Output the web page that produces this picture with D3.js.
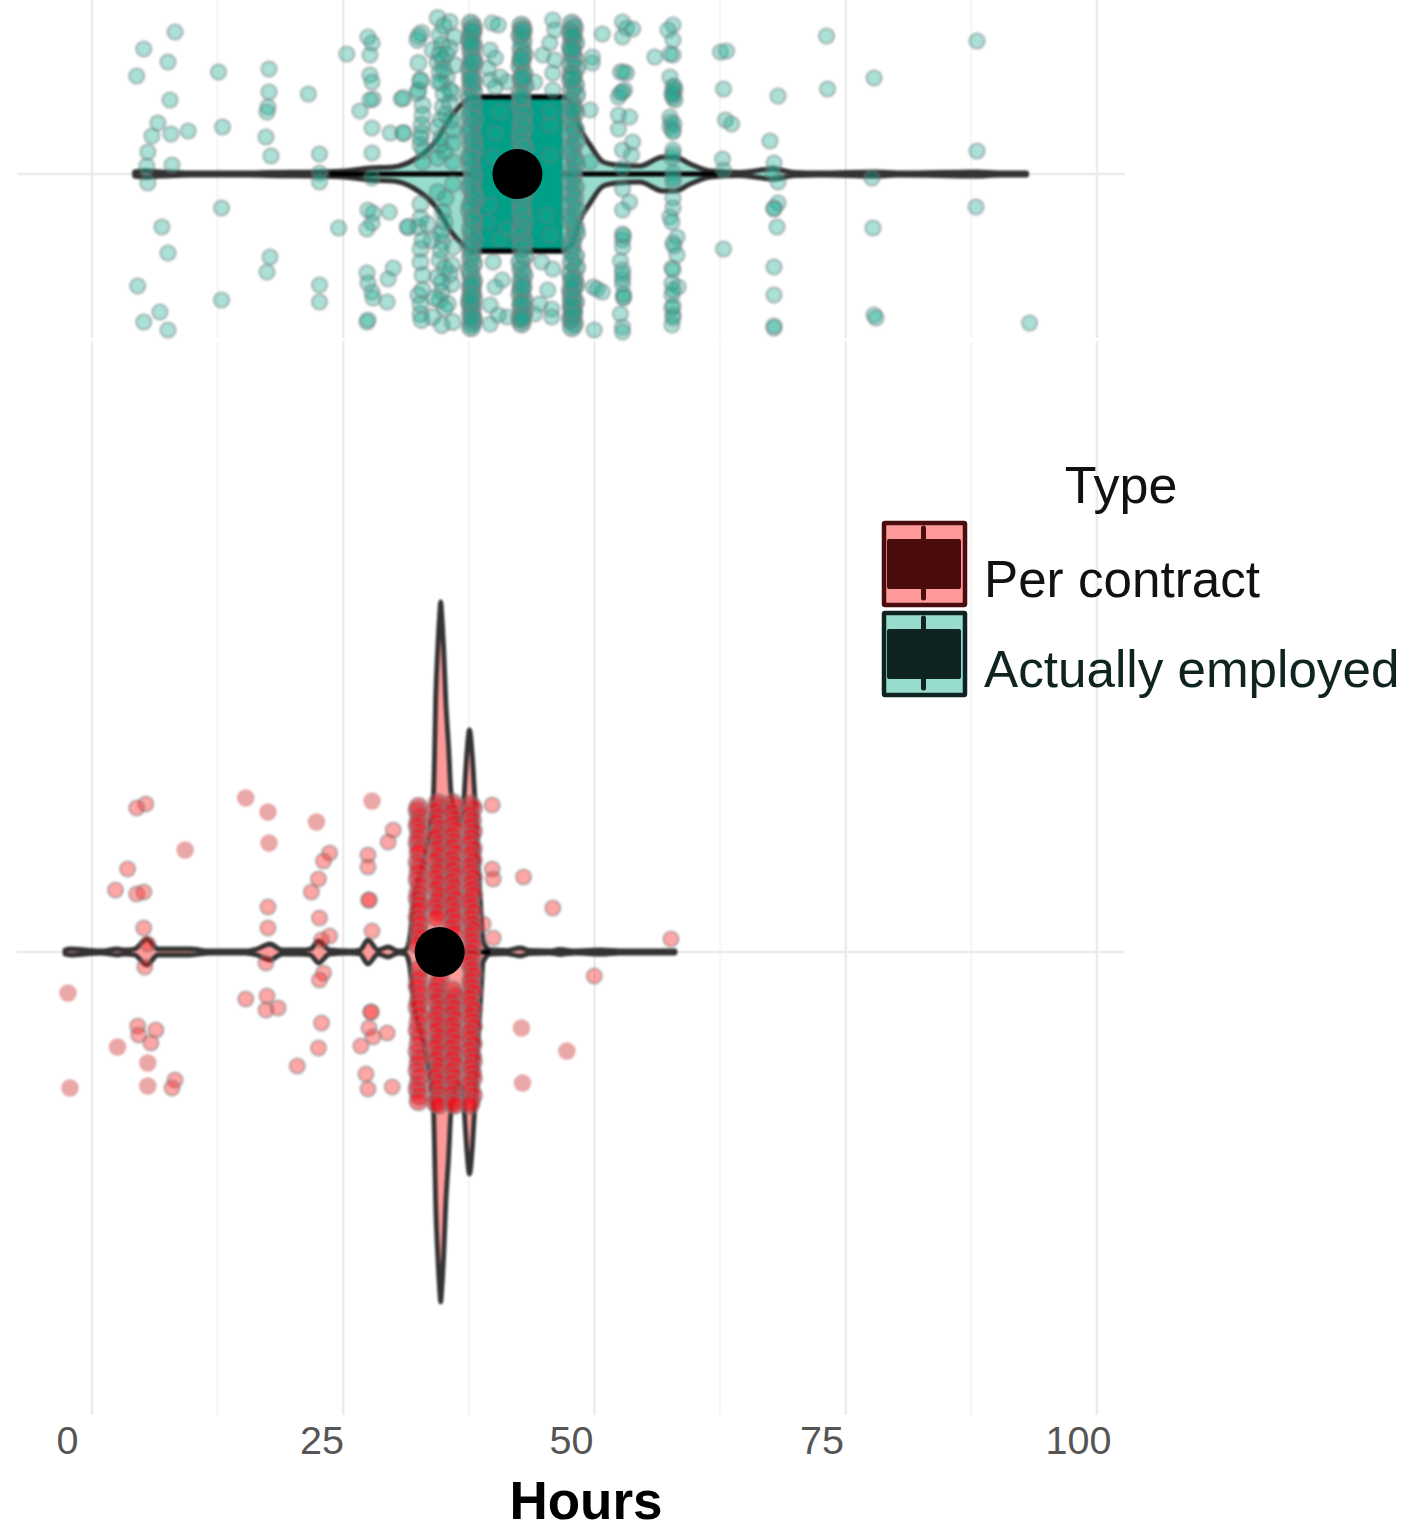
<!DOCTYPE html>
<html><head><meta charset="utf-8">
<script src="https://cdn.jsdelivr.net/npm/d3@7/dist/d3.min.js"></script>
<style>html,body{margin:0;padding:0;background:#fff}svg{display:block}text{font-family:"Liberation Sans",Arial,sans-serif}</style>
</head><body><svg id="c" width="1407" height="1525"><defs><filter id="soft" x="-5%" y="-5%" width="110%" height="110%" color-interpolation-filters="sRGB"><feGaussianBlur stdDeviation="1"/></filter></defs></svg>
<script>
const tickValues=[0,25,50,75,100];
const tickLabels=["0","25","50","75","100"];
const tickShift=[0,2,-1,-3,1];
const minorGrid=[12.5,37.5,62.5,87.5];
const legendLabels=["Per contract","Actually employed"];

// violin outlines: hours and half density
const actualVH=[6.7,7.7,9.2,10.7,12.2,18.1,20.1,25,27.5,30,32.3,34.3,36.6,38.2,39.1,40.2,44.8,49,50,50.8,51.8,53.1,54.5,56.7,59,60.2,61.7,63.7,66.6,69.9,72,74.6,80,82.5,90.1,92.4,95];
const actualVD=[.002,.003,.002,.0015,.001,.001,.0015,.002,.003,.006,.007,.014,.034,.06,.07,.077,.077,.077,.07,.046,.029,.012,.009,.008,.017,.017,.01,.003,.0015,.005,.0015,.001,.002,.001,.002,.001,.001];
const contractVH=[-.2,.3,3.3,5,5.7,6.7,7.9,9,10.7,12.2,14.2,17.6,18.8,20.1,21.3,23.1,24.1,24.9,26,28,29,29.8,30.8,31.8,32.8,33.5,33.9,34.3,35,35.5,36,36.3,36.4,36.5,36.7,36.9,37,37.1,37.3,37.5,37.8,38,38.4,38.8,39.2,39.4,39.6,39.85,40.1,40.4,40.7,41,41.2,41.9,43.4,44.9,45.8,47.8,48.8,50.3,52.8,54.8,60.2];
const contractVD=[.002,.003,.001,.003,.002,.003,.013,.003,.003,.003,.001,.001,.003,.008,.002,.002,.003,.011,.002,.001,.002,.012,.002,.005,.001,.002,.012,.05,.08,.1,.13,.162,.202,.252,.302,.338,.35,.338,.302,.252,.202,.162,.14,.13,.14,.17,.2,.222,.2,.15,.09,.04,.01,.002,.0015,.004,.0015,.001,.0025,.001,.002,.001,.001];

// points: [hours, jitter]
const actualScatter=[[10.7,-71],[7.6,-62.5],[10,-56],[6.9,-49],[15,-51],[20,-52.5],[20,-41],[19.9,-33.5],[19.8,-31],[23.9,-40],[10.2,-37],[9,-25.5],[8.4,-19],[10.3,-20],[12,-21.5],[15.4,-23.5],[19.7,-18.5],[8,-11],[20.2,-9],[25,-10],[7.9,-4],[10.4,-4.5],[8,4.5],[25,-.5],[25,4],[15.3,17],[9.4,26.5],[10,39.5],[20.1,41.5],[19.8,49],[7,56],[25,55.5],[25,64],[15.3,63],[9.2,69],[7.6,74],[10,78],[26.9,27],
[29.8,-68.5],[30.2,-65.5],[27.7,-60],[30,-59.5],[30,-49.5],[30.2,-46],[30.3,-37.5],[30,-37],[29,-31.5],[33.1,-37.5],[30.2,-23],[32,-20.5],[33.3,-20.5],[30.2,-10.5],[30.2,2],[29.8,18],[30.3,19.5],[31.9,19],[30.2,24.5],[29.7,27.5],[33.7,26.5],[32.3,47],[31.8,52.5],[29.7,49.5],[29.8,54.5],[30.2,59],[30.3,62],[31.7,64],[29.7,74],[29.8,73]];
const actualCol35=[[36.7,-78],[37.9,-76],[35.1,-70.5],[34.7,-67],[36.9,-69.5],[38.4,-68.5],[36.2,-62],[37.1,-64.5],[37.9,-63],[34.8,-55.5],[36.7,-56],[37.2,-57],[38.4,-54.5],[36.9,-51],[37.6,-48.5],[35,-46.5],[37.1,-45.5],[33.3,-38],[34.7,-40.5],[38.2,-40.5],[35.2,-34.5],[37.2,-33.5],[37.9,-35.5],[35.2,-29.5],[35.1,-24.5],[33.3,-20.5],[36.7,-23.5],[38.2,-22],[35.1,-20.5],[35,-14.5],[36.9,-14.5],[38.2,-15.5],[35.2,-6],[36.7,-8],[38.2,-6],[34.8,-42],[35,-47],[34.8,-69],[37.3,-74],[37.6,-60],[36.9,-60],[37.3,-52],[36.8,-46],[37.9,-42],[37.3,-40],[37,-27],[37.5,-30],[37,-18],[38,-27],[35.3,-12],[35,-18],[37.4,-11],
[35,15],[36.7,9],[38.2,5],[33.8,26.5],[34.8,26.5],[35.7,25],[37.2,28],[37.2,34],[38.2,36.5],[35,37.5],[35,44],[36.9,43],[38.1,45.5],[35.2,50.5],[36.7,51.5],[38.1,55],[34.8,60.5],[35.2,58],[37.1,59],[36.9,63],[37.7,65],[35,70],[35.1,73],[36.2,71.5],[37.1,75.5],[38.2,74],[36.4,62],[37.9,50],[36.1,33],[37.2,19],[37.5,12],[37,38],[37.4,47],[37.1,54],[37.4,67],[35.2,33],[35,22],[37.4,24],[35,65],[37,30]];
const actualBetween=[[42.1,-75.5],[42.7,-74.5],[41.9,-62],[42.4,-58],[41.9,-47],[42.9,-48.5],[43.6,-46],[41.7,-53],[42.4,-43.5],[48.1,-77],[48.3,-72],[47.8,-65.5],[47.1,-59.5],[48.3,-57],[48.1,-50.5],[48.1,-42],[46.3,-46],
[42.9,-31],[42.4,-20.5],[47.8,-31],[47.8,-24.5],[47.8,-9.5],[42.2,-8.5],[41.9,15.5],[43.6,27.5],[47.5,20.5],[41.6,24],[47.8,30.5],[42.9,32.5],
[42.2,44],[47,44],[48.1,47.5],[43.1,53],[42.4,56.5],[47.6,58],[41.9,65.5],[46.8,65],[48,67.5],[48,71.5],[43.6,71.5],[41.9,75],[42.7,70.5],[46.3,70]];
const actualCol40=[[40,-78],[40.2,-76],[40.1,-73],[39.9,-70],[40.2,-67],[40,-65],[40.1,-61],[40.3,-58],[39.9,-55],[40,-52],[40.2,-48],[40,-45],[40.2,-43],[39.9,-39],[40.2,-37],[40.1,-33],[39.9,-30],[40.3,-28],[40,-24],[39.9,-21],[40.2,-18],[40.1,-15],[40.3,-12],[39.9,-9],[40,-7],[40,-3],[40.2,1],[40.1,4],[39.9,7],[40.2,10],[40.3,13],[40,16],[39.9,19],[40.1,23],[40.2,25],[40,29],[40.1,32],[40.3,35],[39.9,38],[40.1,41],[40,44],[40.2,47],[39.9,50],[40,53],[40.2,56],[40,59],[40.1,62],[40.2,65],[39.9,67],[40.1,70],[40,73],[40.2,76],[40.1,78],[40,80],[40.1,-74],[40,-68],[40.1,-58],[40,-49],[40.1,58],[40,68],[40.1,75],[40,64]];
const actualCol45=[[45,-77],[45.1,-75],[44.9,-72],[45.1,-69],[45,-65],[45.2,-62],[45,-59],[44.9,-56],[45.2,-52],[45,-49],[45.3,-46],[44.9,-42],[45,-38],[44.9,-35],[45.2,-31],[45,-27],[45.2,-24],[44.9,-20],[45,-16],[45.3,-13],[44.9,-9],[45.1,-5],[44.9,-2],[45.2,3],[45,7],[45.3,10],[44.9,14],[45.1,18],[45,21],[45.2,25],[45,29],[44.9,32],[45.2,36],[45,39],[45.3,43],[44.9,46],[45,50],[45.2,53],[45,56],[45,60],[44.9,63],[45.2,66],[45,69],[45.2,72],[44.9,75],[45,78],[45.1,-74],[45,-60],[45.1,-50],[45,-40],[45.1,59],[45,68],[45.1,74],[45,76]];
const actualCol50=[[50,-78],[50.2,-76],[49.9,-74],[50,-71],[50.3,-68],[49.9,-66],[50,-63],[50.2,-60],[49.9,-57],[50.4,-55],[50,-52],[49.9,-49],[50.3,-46],[50,-44],[50.4,-41],[49.9,-38],[50.1,-35],[50.3,-32],[49.9,-29],[50,-26],[50.3,-23],[49.9,-20],[50.4,-17],[50,-14],[49.9,-11],[50.2,-8],[50.4,-5],[50,-2],[50.1,1],[49.9,4],[50.3,7],[50,10],[50.2,13],[49.9,16],[50.4,19],[50,22],[49.9,25],[50.3,28],[50.4,31],[50,34],[50,37],[49.9,40],[50.3,43],[50,46],[50.4,49],[49.9,52],[50.2,55],[50.3,58],[49.9,61],[50,64],[50.3,67],[50,70],[50.1,73],[49.9,76],[50.2,78],[50,80],[50,75],[50,69],[50.1,-72],[50,-65],[50.1,-50],[50,-33],[50.1,72],[50,66],[50.1,60],[50,56]];
const actualRight=[[53,-70],[52,-58.5],[52,-55.5],[51.8,-32],[51.8,-6],[55,-76],[55.4,-73],[56,-72.5],[55,-68.5],[54.8,-51],[55.4,-50.5],[55.2,-42],[54.8,-40.5],[54.6,-38.5],[54.6,-29.5],[55.7,-28.5],[54.6,-22.5],[56,-16],[55,-12],[55.9,-9.5],[55,-3],[55,7.5],[55.7,14],[55,18],[55,30],[55,33],[55,36.5],[54.8,43.5],[55,48],[55,52.5],[55,55],[55.1,61.5],[55.1,62],[54.8,70],[55,76.5],[55,79],[52.1,56.5],[53,59],[52.5,57.5],[52.2,78],[55.1,-51],[55,-41],[55.1,31],[55,50],[55.1,60],
[60,-74.5],[59.5,-72],[60,-67],[60,-59.5],[59.7,-60],[59.7,-48.5],[60,-43.5],[60,-39.5],[60.2,-42],[59.7,-28.5],[59.7,-23.5],[60,-22],[60,-12],[59.9,-8],[60,-.5],[60,4],[60,12],[60,17],[59.7,21.5],[59.9,24],[60.4,31.5],[60,34.5],[60.4,40.5],[59.9,47],[60.5,56.5],[59.9,54.5],[59.9,60.5],[59.9,67],[60,70.5],[59.9,75.5],[58.2,-58.5],[60,-41],[60.2,-37],[59.8,-26],[60,-38],[60.1,-25],[60,-21],[59.9,-40],[60.1,-44],[60,-10],[60,2],[60.1,36],[60,48],[60,58],[60,66],[60,72],
[64.7,-61],[65.3,-61.5],[65,-42.5],[65.2,-27],[65.8,-25],[64.9,-7.5],[65,-2],[65,37.5],
[70.4,-39],[69.6,-16.5],[70,-5.5],[69.9,-.5],[70.4,4],[70.4,14.5],[70,17],[70,17.5],[70.3,26.5],[70,46.5],[70,60.5],[70,77],[70,76],
[75.2,-69],[75.3,-42.5],[79.9,-48],[79.7,2],[79.8,27],[79.9,70.5],[80.1,72],[90.1,-66.5],[90.1,-11.5],[90,16.5],[95.3,74.5]];

const contractScatter=[[7.8,-74],[6.9,-72],[6,-41.5],[4.8,-31],[6.9,-29],[7.6,-30],[7.6,-12],[8,-4],[7.7,7.5],[19.7,5.5],[19.9,-22.5],[19.9,-12],[17.7,23.5],[19.8,22],[19.7,29],[20.9,28],[26,-49.5],[25.4,-45.5],[24.9,-36.5],[24.2,-30],[25,-17],[26,-8],[25.2,-6],[25.4,10.5],[25,14],[25.2,35.5],[24.9,48],[22.8,57],[29.8,-48.5],[29.8,-42.5],[29.9,-26],[29.9,-26],[30.2,-10.5],[30.1,30],[30.1,30],[29.9,38],[30.3,42.5],[31.7,40.5],[29.1,47],[29.6,61],[29.8,68.5],[32.2,67.5],[32.3,-61],[31.8,-55],[7,37],[7.1,41.5],[8.8,39],[8.3,45.5],[10.7,64],[10.4,68],[42.1,-73.5],[42.1,-41.5],[42.2,-36.5],[45.2,-37.5],[48.1,-22],[42.2,-7],[41.2,-14],[59.8,-6.5],[52.2,12]];
const contractSolid=[[17.7,-77],[19.9,-70],[24.7,-65],[30.2,-75.5],[20,-54.5],[11.7,-51],[.1,20.5],[.3,68],[5,47.5],[8,55.5],[8,67],[45,38],[45.1,65.5],[49.5,49.5]];
const contractCol35=[[34.8,-76],[34.7,-74],[34.9,-71],[34.8,-68],[34.7,-66],[34.9,-63],[34.8,-60],[34.7,-57],[34.9,-54],[34.8,-52],[34.7,-47],[34.9,-45],[34.8,-42],[34.7,-38],[34.9,-35],[34.8,-31],[34.7,-28],[34.9,-25],[34.8,-22],[34.7,-18],[34.9,-15],[34.8,-11],[34.9,-8],[34.7,-4],[34.9,9],[34.8,14],[34.7,18],[34.9,22],[34.8,26],[34.7,29],[34.9,33],[34.8,37],[34.7,41],[34.9,44],[34.8,48],[34.7,52],[34.9,55],[34.8,58],[34.7,62],[34.9,65],[34.8,69],[34.7,72],[34.9,75],[34.8,78]];
const contractCol37=[[36.7,-78],[36.9,-76],[36.5,-74],[36.8,-71],[36.6,-68],[36.9,-65],[36.7,-62],[36.5,-60],[36.9,-57],[36.6,-54],[36.8,-51],[36.5,-48],[36.9,-45],[36.7,-42],[36.5,-39],[36.8,-36],[36.6,-33],[36.9,-30],[36.7,-27],[36.5,-24],[36.8,-21],[36.6,-18],[36.9,14],[36.7,17],[36.5,20],[36.8,23],[36.6,26],[36.9,29],[36.7,32],[36.5,35],[36.8,38],[36.6,41],[36.9,44],[36.7,47],[36.5,50],[36.8,53],[36.6,56],[36.9,59],[36.7,62],[36.5,65],[36.8,68],[36.6,71],[36.9,74],[36.7,77],[36.5,79],[36.8,80]];
const contractCol38=[[38.2,-78],[38.4,-76],[38.1,-73],[38.3,-70],[38.2,-67],[38.4,-64],[38.1,-61],[38.3,-58],[38.2,-55],[38.4,-52],[38.1,-49],[38.3,-46],[38.2,-43],[38.4,-40],[38.1,-37],[38.3,-34],[38.2,-31],[38.4,-28],[38.1,-25],[38.3,-22],[38.2,-19],[38.4,-16],[38.1,-13],[38.3,-10],[38.2,20],[38.4,23],[38.1,26],[38.3,29],[38.2,32],[38.4,35],[38.1,38],[38.3,41],[38.2,44],[38.4,47],[38.1,50],[38.3,53],[38.2,56],[38.4,59],[38.1,62],[38.3,65],[38.2,68],[38.4,71],[38.1,74],[38.3,77],[38.2,79],[38.4,80]];
const contractCol40=[[40,-77],[40.2,-75],[39.9,-72],[40.1,-69],[40,-66],[40.2,-63],[40,-60],[39.9,-57],[40.2,-54],[40,-51],[40.2,-48],[39.9,-45],[40,-42],[40.2,-39],[40,-36],[40.1,-33],[40.2,-30],[39.9,-27],[40,-24],[40.2,-21],[40,-18],[40.1,-15],[40.2,-12],[40,-9],[40.1,-6],[40.2,-3],[40,0],[40.1,3],[39.9,6],[40.1,9],[40.2,12],[40,15],[40.1,18],[40.2,21],[39.9,24],[40,27],[40.2,30],[40,33],[40.1,36],[40.2,39],[39.9,42],[40,45],[40.2,48],[39.9,51],[40.1,54],[40.2,57],[40,60],[40.1,63],[40.2,66],[39.9,69],[40,72],[40.2,75],[40,78],[39.9,80]];

const svg=d3.select("#c");
const x=d3.scaleLinear().domain([0,100]).range([67,1077]);
const gridX=d3.scaleLinear().domain([0,100]).range([92,1097]);
const yTop=d3.scaleLinear().domain([-80,80]).range([14,334]);
const yBot=d3.scaleLinear().domain([-80,80]).range([792,1112]);
const yTopDense=d3.scaleLinear().domain([-80,80]).range([20,327]);
const yBotDense=d3.scaleLinear().domain([-80,80]).range([799,1105]);
const spread=d3.scaleLinear().domain([0,.35]).range([0,350]);

// grid
const grid=svg.append("g");
grid.selectAll(".mj").data(tickValues).join("line").attr("x1",d=>gridX(d)).attr("x2",d=>gridX(d)).attr("y1",0).attr("y2",1415).attr("stroke","#ececec").attr("stroke-width",2.5);
grid.selectAll(".mn").data(minorGrid).join("line").attr("x1",d=>gridX(d)).attr("x2",d=>gridX(d)).attr("y1",0).attr("y2",1415).attr("stroke","#f7f7f7").attr("stroke-width",2.5);
grid.selectAll(".hz").data([yTop(0),yBot(0)]).join("line").attr("x1",17).attr("x2",1125).attr("y1",d=>d).attr("y2",d=>d).attr("stroke","#ececec").attr("stroke-width",2.5);
grid.append("rect").attr("x",0).attr("y",338).attr("width",1140).attr("height",3).attr("fill","#fff");

const marks=svg.append("g").attr("filter","url(#soft)");
function violin(hs,ds,yS,fill,sw){
  const rows=hs.map((h,i)=>({h,d:ds[i]}));
  const a=d3.area().x(d=>x(d.h)).y0(d=>yS(0)+spread(d.d)).y1(d=>yS(0)-spread(d.d)).curve(d3.curveMonotoneX);
  marks.append("path").attr("d",a(rows)).attr("fill",fill).attr("stroke","#333").attr("stroke-width",sw).attr("stroke-linejoin","round");
}
function points(rows,yS,fill,stroke,r,sw){
  marks.append("g").selectAll("circle").data(rows).join("circle").attr("cx",d=>x(d[0])).attr("cy",d=>yS(d[1])).attr("r",r).attr("fill",fill).attr("stroke",stroke).attr("stroke-width",sw);
}
const tealF="rgba(22,168,143,.36)",tealS="rgba(115,125,125,.42)";
const tealDense="rgba(30,160,140,.5)",tealDenseS="rgba(125,130,130,.55)";
const redF="rgba(255,32,32,.4)",redS="rgba(120,120,120,.42)";
const redDense="rgba(238,22,32,.55)",redDenseS="rgba(130,125,125,.5)";

// top group
violin(actualVH,actualVD,yTop,"#97dccd",5);
marks.append("line").attr("x1",x(26)).attr("x2",x(64.5)).attr("y1",yTop(0)).attr("y2",yTop(0)).attr("stroke","#000").attr("stroke-width",5);
marks.append("rect").attr("x",x(40)).attr("width",x(49.1)-x(40)).attr("y",yTop(-38.5)).attr("height",yTop(38.5)-yTop(-38.5)).attr("fill","#00a088");
[-38.5,38.5].forEach(j=>marks.append("line").attr("x1",x(40)).attr("x2",x(49.1)).attr("y1",yTop(j)).attr("y2",yTop(j)).attr("stroke","#000").attr("stroke-width",5));
[actualScatter,actualBetween,actualRight].forEach(r=>points(r,yTop,tealF,tealS,7.6,2.4));
points(actualCol35,yTop,tealF,tealS,8,2.4);
[actualCol40,actualCol45,actualCol50].forEach(r=>points(r,yTopDense,tealDense,tealDenseS,9,2.6));
svg.append("circle").attr("cx",x(44.6)).attr("cy",yTop(0)).attr("r",25).attr("fill","#000");

// bottom group
violin(contractVH,contractVD,yBot,"#ff9a9a",4.8);
marks.append("line").attr("x1",x(38)).attr("x2",x(41.9)).attr("y1",yBot(0)).attr("y2",yBot(0)).attr("stroke","#000").attr("stroke-width",5);
points(contractSolid,yBot,"#e9a7a8","none",8.8,0);
points(contractScatter,yBot,redF,redS,7.6,2.4);
[contractCol35,contractCol37,contractCol38,contractCol40].forEach(r=>points(r,yBotDense,redDense,redDenseS,9,2.4));
svg.append("circle").attr("cx",x(36.9)).attr("cy",yBot(0)).attr("r",25).attr("fill","#000");

// axis
const ax=d3.axisBottom(x).tickValues(tickValues).tickFormat((d,i)=>tickLabels[i]).tickSize(0);
const axG=svg.append("g").attr("transform","translate(0,1423)").call(ax);
axG.select(".domain").remove();
axG.selectAll("text").attr("font-size",39.5).attr("fill","#555").attr("dy",0).attr("y",31).attr("dx",(d,i)=>tickShift[i]);
svg.append("text").attr("x",586).attr("y",1519).attr("text-anchor","middle").attr("font-size",53).attr("font-weight","bold").attr("fill","#000").text("Hours");

// legend
svg.append("text").attr("x",1121).attr("y",503).attr("text-anchor","middle").attr("font-size",52).attr("fill","#111").text("Type");
const keys=[{y:521,dark:"#4a0c0c",light:"#ff9a9a",text:"#111",base:597},{y:611,dark:"#0f2320",light:"#97dccd",text:"#0f2320",base:687}];
keys.forEach((k,i)=>{
  const g=svg.append("g");
  g.append("rect").attr("x",884).attr("y",k.y+2).attr("width",81).attr("height",82).attr("fill",k.light).attr("stroke",k.dark).attr("stroke-width",4.5).attr("rx",1);
  g.append("line").attr("x1",923.5).attr("x2",923.5).attr("y1",k.y+7).attr("y2",k.y+77).attr("stroke",k.dark).attr("stroke-width",5).attr("stroke-linecap","round");
  g.append("rect").attr("x",887).attr("y",k.y+18).attr("width",74).attr("height",50).attr("rx",2).attr("fill",k.dark);
  g.append("text").attr("x",984).attr("y",k.base).attr("font-size",51.2).attr("fill",k.text).text(legendLabels[i]);
});
</script></body></html>
